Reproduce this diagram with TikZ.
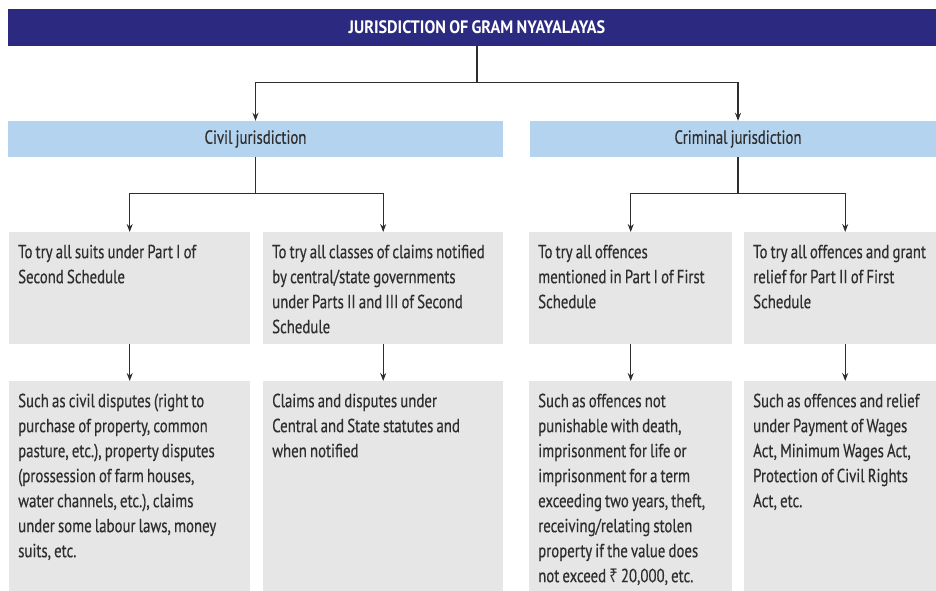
\documentclass[tikz,border=0pt]{standalone}
\usepackage{fontspec}
\setmainfont{PT Sans}[FakeStretch=0.78, WordSpace=0.8, FakeBold=0.4]
\newfontfamily\titlefont{PT Sans}[FakeStretch=0.9, WordSpace=0.8]
\newfontfamily\rupeefont{Noto Sans}[FakeStretch=0.78]
\usetikzlibrary{arrows.meta,calc}
\definecolor{navy}{HTML}{2B2A80}
\definecolor{paleblue}{HTML}{B4D3EE}
\definecolor{boxgray}{HTML}{E6E6E6}
\definecolor{inkgray}{HTML}{2E2E2E}

\begin{document}
\begin{tikzpicture}[x=1pt, y=-1pt, >=Stealth,
  head/.style={fill=paleblue, minimum height=36pt, inner sep=0pt, text=inkgray, font=\fontsize{19}{25}\selectfont},
  card/.style={fill=boxgray, anchor=north west, inner xsep=9pt, inner ysep=0pt, text height=26pt, align=flush left, text=inkgray, font=\fontsize{19}{25}\selectfont},
  link/.style={line width=1.2pt, draw=inkgray},
  arr/.style={link, -{Stealth[length=8pt,width=6pt]}}]
\useasboundingbox (0,0) rectangle (936,590);

% Title bar
\node[fill=navy, minimum width=938pt, minimum height=37pt, inner sep=0pt, text=white, font=\titlefont\fontsize{18}{20}\selectfont\bfseries] (title) at (477,27.5) {JURISDICTION OF GRAM NYAYALAYAS};

% Jurisdiction heads
\node[head, minimum width=495pt] (civil) at (255.5,139) {Civil jurisdiction};
\node[head, minimum width=416pt] (crim) at (738,139) {Criminal jurisdiction};

% Powers
\node[card, text width=223pt, text depth=86pt] (suits) at (9,232) {To try all suits under Part I of\\Second Schedule};
\node[card, text width=222pt, text depth=86pt] (claims) at (263,232) {To try all classes of claims notified\\by central/state governments\\under Parts II and III of Second\\Schedule};
\node[card, text width=185pt, text depth=86pt] (offI) at (529,232) {To try all offences\\mentioned in Part I of First\\Schedule};
\node[card, text width=184pt, text depth=86pt] (offII) at (744,232) {To try all offences and grant\\relief for Part II of First\\Schedule};

% Examples
\node[card, text width=223pt, text depth=193pt] (civex) at (9,381) {Such as civil disputes (right to\\purchase of property, common\\pasture, etc.), property disputes\\(prossession of farm houses,\\water channels, etc.), claims\\under some labour laws, money\\suits, etc.};
\node[card, text width=222pt, text depth=193pt] (statex) at (263,381) {Claims and disputes under\\Central and State statutes and\\when notified};
\node[card, text width=185pt, text depth=193pt] (crimex) at (529,381) {Such as offences not\\punishable with death,\\imprisonment for life or\\imprisonment for a term\\exceeding two years, theft,\\receiving/relating stolen\\property if the value does\\not exceed {\rupeefont ₹}~20,000, etc.};
\node[card, text width=184pt, text depth=193pt] (wageex) at (744,381) {Such as offences and relief\\under Payment of Wages\\Act, Minimum Wages Act,\\Protection of Civil Rights\\Act, etc.};

% Branches
\draw[link] (title.south) -- ++(0,36) coordinate (split0);
\draw[arr] (split0) -| (civil.north);
\draw[arr] (split0) -| (crim.north);

\draw[link] (civil.south) -- ++(0,36) coordinate (split1);
\draw[arr] (split1) -| (suits.north);
\draw[arr] (split1) -| (claims.north);

\draw[link] (crim.south) -- ++(0,36) coordinate (split2);
\draw[arr] (split2) -| (offI.north);
\draw[arr] (split2) -| (offII.north);

\draw[arr] (suits.south) -- (civex.north);
\draw[arr] (claims.south) -- (statex.north);
\draw[arr] (offI.south) -- (crimex.north);
\draw[arr] (offII.south) -- (wageex.north);
\end{tikzpicture}
\end{document}
